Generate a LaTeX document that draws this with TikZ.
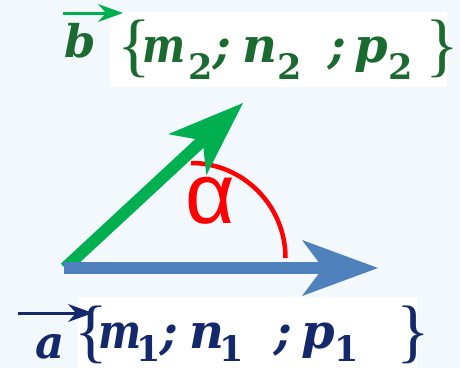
\documentclass[tikz,border=0pt]{standalone}
\usepackage{fontspec}
\setmainfont{DejaVu Serif}
\newfontfamily\alphafont{Liberation Sans}
\newfontfamily\bracefont{Liberation Serif}
\usetikzlibrary{arrows.meta}
\definecolor{bgc}{HTML}{F3F8FC}
\definecolor{vgreen}{HTML}{00B050}
\definecolor{vblue}{HTML}{4F81BD}
\definecolor{dkgreen}{HTML}{1B6A30}
\definecolor{navy}{HTML}{13296B}
\newcommand\pc[2]{\makebox[#1pt][l]{#2}}
\newcommand\sbs[2]{\raisebox{-#1pt}{\fontsize{35}{35}\selectfont\bfseries\upshape #2}}
\newcommand\brc[1]{\raisebox{-6pt}{\bracefont\fontsize{70}{70}\selectfont\mdseries\upshape #1}}
\newcommand\narrowm{\scalebox{0.85}[1]{m}}
\tikzset{
  bigvec/.style={line width=12pt, -{Stealth[length=76pt,width=56pt,inset=21pt,line width=0pt]}},
  smallvec/.style={line width=3pt, -{Stealth[length=25pt,width=18pt,inset=8pt,line width=0pt]}},
  coordtext/.style={anchor=base west, inner sep=0pt, font=\fontsize{48}{48}\selectfont\bfseries\itshape},
  vecletter/.style={anchor=base, inner sep=0pt, font=\fontsize{45}{45}\selectfont\bfseries\itshape}
}
\begin{document}
\begin{tikzpicture}[x=1pt,y=-1pt]
\path[use as bounding box, fill=bgc] (0,0) rectangle (460,368);
% white label backgrounds
\fill[white] (110,12) rectangle (447,87);
\fill[white] (78,297) rectangle (417,368);
% coordinates
\coordinate (O) at (64,268);
\coordinate (Og) at (65,268);
\coordinate (A) at (378,268);
\coordinate (B) at (243,103);
\coordinate (arcS) at (191,163);
% angle arc
\draw[red, line width=4.5pt] (arcS) arc[start angle=-90, end angle=0, x radius=94.5, y radius=95];
\node[text=red, anchor=base, inner sep=0pt, font=\alphafont\fontsize{86}{86}\selectfont] (alpha) at (210.5,223) {α};
% vectors
\draw[bigvec, vgreen] (Og) -- (B);
\draw[bigvec, vblue] (O) -- (A);
% vector b label
\coordinate (bs) at (63,13);
\coordinate (be) at (123,13);
\draw[smallvec, vgreen] (bs) -- (be);
\node[vecletter, text=dkgreen] (b) at (80.5,57) {b};
\node[coordtext, text=dkgreen] (bc) at (117,62) {\pc{25}{\brc{\{}}\pc{46}{\narrowm}\pc{25}{\sbs{17}{2}}\pc{29}{; }\pc{35}{n}\pc{51}{\sbs{17}{2} }\pc{26}{; }\pc{34}{p}\pc{37}{\sbs{17}{2}}\brc{\}}};
% vector a label
\coordinate (as) at (18,313);
\coordinate (ae) at (93,313);
\draw[smallvec, navy] (as) -- (ae);
\node[vecletter, text=navy] (a) at (50,358) {a};
\node[coordtext, text=navy] (ac) at (74,348) {\pc{24}{\brc{\{}}\pc{38}{\narrowm}\pc{24}{\sbs{13}{1}}\pc{29}{; }\pc{30}{n}\pc{55}{\sbs{13}{1} }\pc{27}{; }\pc{33}{p}\pc{62}{\sbs{13}{1}}\brc{\}}};
\end{tikzpicture}
\end{document}
